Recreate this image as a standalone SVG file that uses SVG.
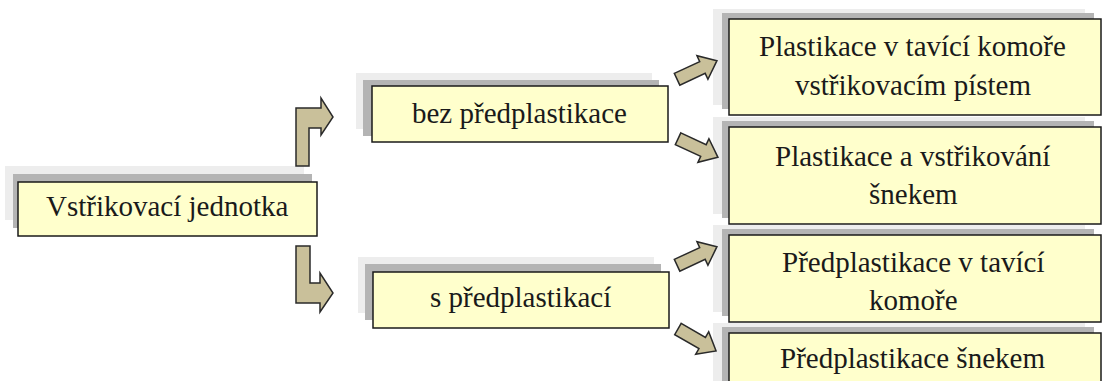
<svg xmlns="http://www.w3.org/2000/svg" width="1106" height="381" viewBox="0 0 1106 381">
  <defs>
    <!-- straight block arrow pointing along +x, centred on the origin -->
    <polygon id="blockArrow" points="-22,-6.5 6,-6.5 6,-13 22,0 6,13 6,6.5 -22,6.5"/>
  </defs>
  <rect width="1106" height="381" fill="#ffffff"/>

  <!-- root -->
  <g id="node-root">
    <rect fill="#ededed" x="5" y="166" width="299" height="54"/>
    <rect fill="#b4b4b4" x="13" y="174" width="299" height="54"/>
    <rect fill="#ffffcc" stroke="#1a1a1a" stroke-width="1.5" x="18" y="182" width="299" height="54"/>
    <text x="46" y="216" fill="#1a1a1a" font-family="Liberation Serif" font-size="29">Vstřikovací jednotka</text>
  </g>

  <!-- second level -->
  <g id="node-bez">
    <rect fill="#ededed" x="356" y="73" width="296" height="56"/>
    <rect fill="#b4b4b4" x="363" y="80" width="296" height="56"/>
    <rect fill="#ffffcc" stroke="#1a1a1a" stroke-width="1.5" x="372" y="86" width="296" height="56"/>
    <text x="412" y="123" fill="#1a1a1a" font-family="Liberation Serif" font-size="29">bez předplastikace</text>
  </g>
  <g id="node-s">
    <rect fill="#ededed" x="358" y="257" width="296" height="56"/>
    <rect fill="#b4b4b4" x="365" y="264" width="296" height="56"/>
    <rect fill="#ffffcc" stroke="#1a1a1a" stroke-width="1.5" x="373" y="272" width="296" height="56"/>
    <text x="430" y="307" fill="#1a1a1a" font-family="Liberation Serif" font-size="29">s předplastikací</text>
  </g>

  <!-- third level -->
  <g id="node-piston">
    <rect fill="#ededed" x="713" y="9" width="372" height="96"/>
    <rect fill="#b4b4b4" x="722" y="13" width="372" height="96"/>
    <rect fill="#ffffcc" stroke="#1a1a1a" stroke-width="1.5" x="729" y="19" width="372" height="96"/>
    <text x="759" y="56" fill="#1a1a1a" font-family="Liberation Serif" font-size="29">Plastikace v tavící komoře</text>
    <text x="795" y="95" fill="#1a1a1a" font-family="Liberation Serif" font-size="29">vstřikovacím pístem</text>
  </g>
  <g id="node-screw">
    <rect fill="#ededed" x="713" y="117" width="372" height="97"/>
    <rect fill="#b4b4b4" x="722" y="121" width="372" height="97"/>
    <rect fill="#ffffcc" stroke="#1a1a1a" stroke-width="1.5" x="729" y="127" width="372" height="97"/>
    <text x="775" y="166" fill="#1a1a1a" font-family="Liberation Serif" font-size="29">Plastikace a vstřikování</text>
    <text x="869" y="204" fill="#1a1a1a" font-family="Liberation Serif" font-size="29">šnekem</text>
  </g>
  <g id="node-pre-chamber">
    <rect fill="#ededed" x="713" y="225" width="372" height="87"/>
    <rect fill="#b4b4b4" x="722" y="229" width="372" height="87"/>
    <rect fill="#ffffcc" stroke="#1a1a1a" stroke-width="1.5" x="729" y="235" width="372" height="87"/>
    <text x="782" y="272" fill="#1a1a1a" font-family="Liberation Serif" font-size="29">Předplastikace v tavící</text>
    <text x="869" y="310" fill="#1a1a1a" font-family="Liberation Serif" font-size="29">komoře</text>
  </g>
  <g id="node-pre-screw">
    <rect fill="#ededed" x="713" y="323" width="372" height="80"/>
    <rect fill="#b4b4b4" x="722" y="327" width="372" height="80"/>
    <rect fill="#ffffcc" stroke="#1a1a1a" stroke-width="1.5" x="729" y="333" width="372" height="80"/>
    <text x="780" y="368" fill="#1a1a1a" font-family="Liberation Serif" font-size="29">Předplastikace šnekem</text>
  </g>

  <!-- connectors -->
  <g id="connectors" fill="#c9c09a" stroke="#2a2a2a" stroke-width="1.5">
    <polygon points="296,166 296,108 321,108 321,98 333,117 321,135 321,128 309,128 309,166"/>
    <polygon points="296,246 310,246 310,283 320,283 320,273 333,293 320,312 320,303 296,303"/>
    <use href="#blockArrow" transform="translate(697,70) rotate(-25)"/>
    <use href="#blockArrow" transform="translate(698,148) rotate(25)"/>
    <use href="#blockArrow" transform="translate(697,256) rotate(-25)"/>
    <use href="#blockArrow" transform="translate(697,340) rotate(30)"/>
  </g>
</svg>
